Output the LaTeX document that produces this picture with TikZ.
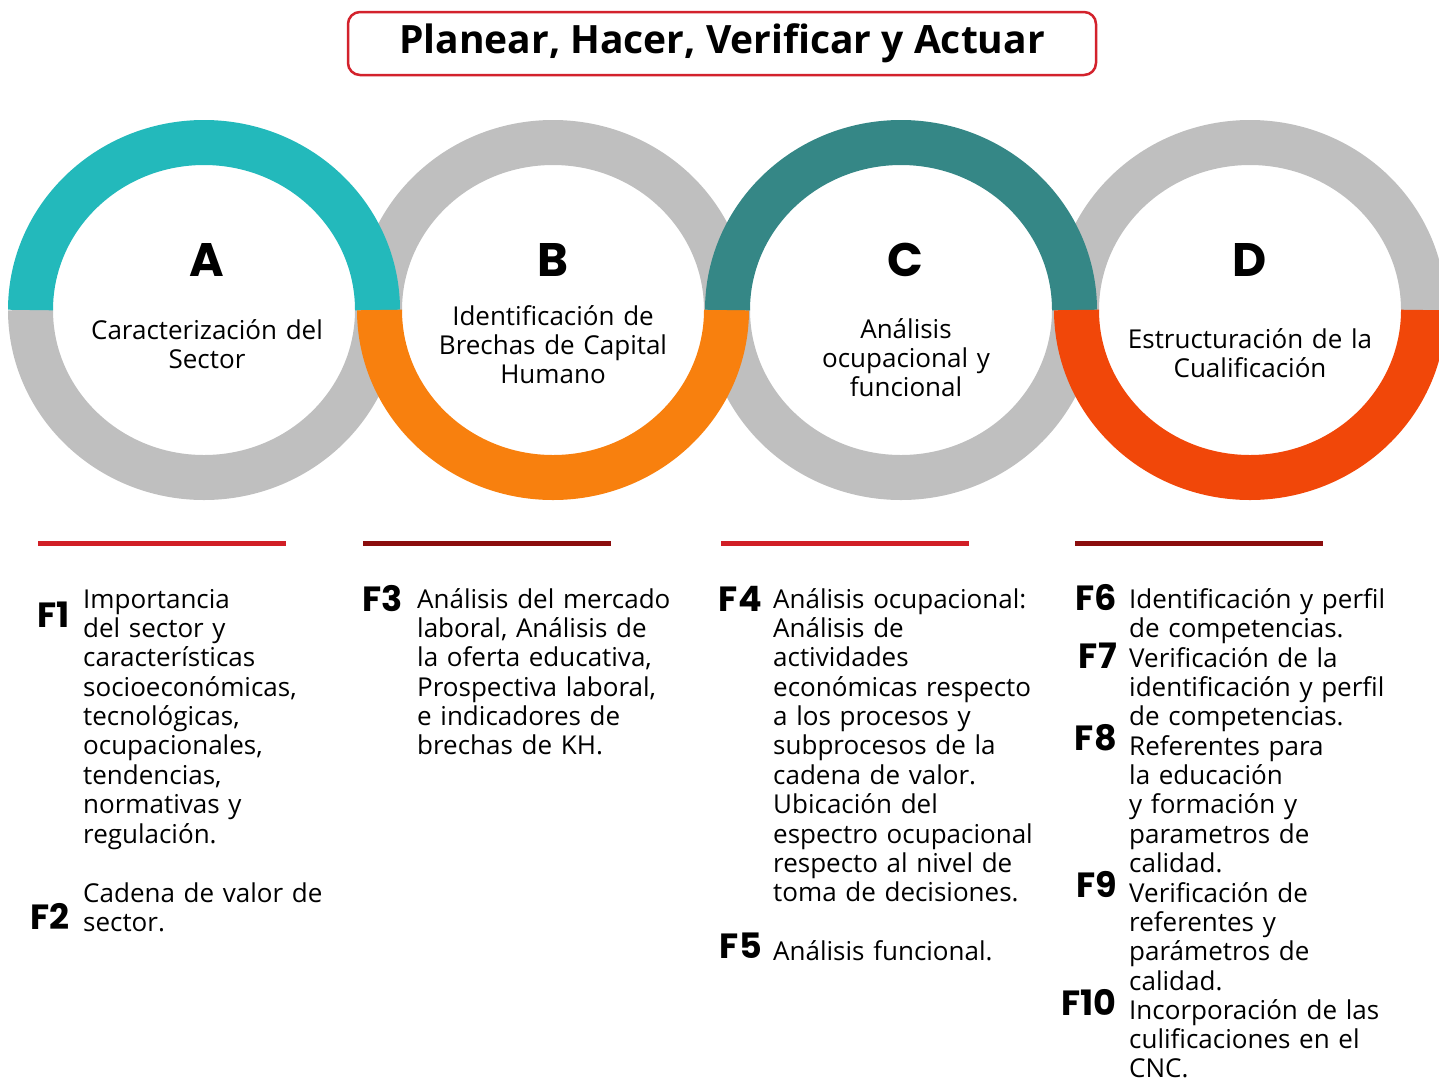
\documentclass[tikz,border=0pt]{standalone}
\usepackage{fontspec}
\setmainfont{Open Sans}
\newfontfamily\heavyfont{Poppins}
\usepackage{xcolor}

\definecolor{ringgray}{HTML}{BFBFBF}
\definecolor{tealA}{HTML}{23B9BB}
\definecolor{orangeB}{HTML}{F8800E}
\definecolor{tealC}{HTML}{358786}
\definecolor{redD}{HTML}{F14709}
\definecolor{titlered}{HTML}{D3222C}
\definecolor{barred}{HTML}{D11F26}
\definecolor{bardark}{HTML}{8B0D0D}

\begin{document}
\begin{tikzpicture}[x=1pt,y=-1pt,
    ring/.style={line width=45pt},
    letter/.style={anchor=base, inner sep=0pt, font=\heavyfont\bfseries\fontsize{47}{47}\selectfont},
    ctext/.style={anchor=base, align=center, text width=280pt, inner sep=0pt, font=\fontsize{26}{29.375}\selectfont},
    flabel/.style={anchor=base east, inner sep=0pt, font=\heavyfont\bfseries\fontsize{35}{35}\selectfont},
    coltext/.style={anchor=base west, align=left, text width=290pt, inner sep=0pt, font=\fontsize{26}{29.375}\selectfont}]
        \useasboundingbox (0,0) rectangle (1439,1080);
        \clip (0,0) rectangle (1439,1080);

        % Title
        \node[draw=titlered, line width=2.5pt, rounded corners=12pt, minimum width=748pt, minimum height=63pt,
              inner sep=0pt, font=\bfseries\fontsize{39}{39}\selectfont] (title) at (722,43.5) {Planear, Hacer, Verificar y Actuar};

        % Gray halves of the rings
        \draw[ring, ringgray] (204,310) ++(173.5,0) arc[start angle=0, end angle=180, x radius=173.5, y radius=167.5];
        \draw[ring, ringgray] (553,310) ++(-173.5,0) arc[start angle=180, end angle=360, x radius=173.5, y radius=167.5];
        \draw[ring, ringgray] (901,310) ++(173.5,0) arc[start angle=0, end angle=180, x radius=173.5, y radius=167.5];
        \draw[ring, ringgray] (1250,310) ++(-173.5,0) arc[start angle=180, end angle=360, x radius=173.5, y radius=167.5];

        % Coloured halves of the rings
        \draw[ring, tealA] (204,310) ++(-173.5,0) arc[start angle=180, end angle=360, x radius=173.5, y radius=167.5];
        \draw[ring, orangeB] (553,310) ++(173.5,0) arc[start angle=0, end angle=180, x radius=173.5, y radius=167.5];
        \draw[ring, tealC] (901,310) ++(-173.5,0) arc[start angle=180, end angle=360, x radius=173.5, y radius=167.5];
        \draw[ring, redD] (1250,310) ++(173.5,0) arc[start angle=0, end angle=180, x radius=173.5, y radius=167.5];

        % Letters and names of the stages
        \node[letter] (letA) at (207,276) {A};
        \node[letter] (letB) at (553,276) {B};
        \node[letter] (letC) at (905,276) {C};
        \node[letter] (letD) at (1250,276) {D};

        \node[ctext] (txtA) at (207,339) {Caracterización del\\Sector};
        \node[ctext] (txtB) at (553,325) {Identificación de\\Brechas de Capital\\Humano};
        \node[ctext] (txtC) at (906,338) {Análisis\\ocupacional y\\funcional};
        \node[ctext] (txtD) at (1250,348) {Estructuración de la\\Cualificación};

        % Bars over the columns
        \draw[barred, line width=5pt] (38,543) -- (286,543);
        \draw[bardark, line width=5pt] (363,543) -- (611,543);
        \draw[barred, line width=5pt] (721,543) -- (969,543);
        \draw[bardark, line width=5pt] (1075,543) -- (1323,543);

        % Column A
        \node[flabel] (f1) at (70,627) {F1};
        \node[coltext] (f1txt) at (83,608) {Importancia\\del sector y\\características\\socioeconómicas,\\tecnológicas,\\ocupacionales,\\tendencias,\\normativas y\\regulación.};
        \node[flabel] (f2) at (70,929) {F2};
        \node[coltext] (f2txt) at (83,902) {Cadena de valor de\\sector.};

        % Column B
        \node[flabel] (f3) at (403,611) {F3};
        \node[coltext] (f3txt) at (417,608) {Análisis del mercado\\laboral, Análisis de\\la oferta educativa,\\Prospectiva laboral,\\e indicadores de\\brechas de KH.};

        % Column C
        \node[flabel] (f4) at (762,611) {F4};
        \node[coltext] (f4txt) at (773,608) {Análisis ocupacional:\\Análisis de\\actividades\\económicas respecto\\a los procesos y\\subprocesos de la\\cadena de valor.\\Ubicación del\\espectro ocupacional\\respecto al nivel de\\toma de decisiones.};
        \node[flabel] (f5) at (762,958) {F5};
        \node[coltext] (f5txt) at (773,960) {Análisis funcional.};

        % Column D
        \node[flabel] (f6) at (1117,610) {F6};
        \node[coltext] (f6txt) at (1129,608) {Identificación y perfil\\de competencias.};
        \node[flabel] (f7) at (1117,668) {F7};
        \node[coltext] (f7txt) at (1129,667) {Verificación de la\\identificación y perfil\\de competencias.};
        \node[flabel] (f8) at (1117,750) {F8};
        \node[coltext] (f8txt) at (1129,755) {Referentes para\\la educación\\y formación y\\parametros de\\calidad.};
        \node[flabel] (f9) at (1117,897) {F9};
        \node[coltext] (f9txt) at (1129,902) {Verificación de\\referentes y\\parámetros de\\calidad.};
        \node[flabel] (f10) at (1117,1015) {F10};
        \node[coltext] (f10txt) at (1129,1019) {Incorporación de las\\culificaciones en el\\CNC.};
    \end{tikzpicture}
\end{document}
